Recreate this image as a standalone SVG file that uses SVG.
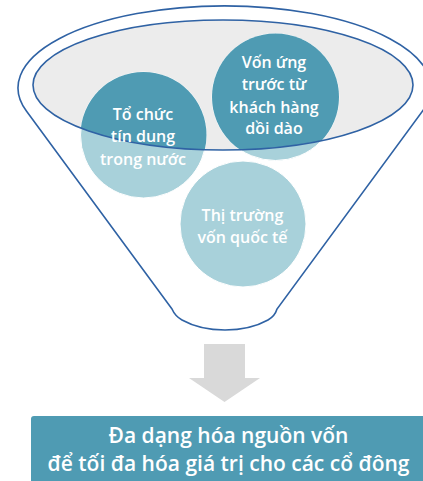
<svg xmlns="http://www.w3.org/2000/svg" width="423" height="481" viewBox="0 0 423 481">
<style>
.ol{fill:none;stroke:#2f62a4;stroke-width:1.6}
.lt{fill:#a8d1da;stroke:#ffffff;stroke-width:1}
.dk{fill:#4f9bb3}
.ct{font-family:"Open Sans","Noto Sans",sans-serif;font-size:16px;font-weight:600;fill:#ffffff;text-anchor:middle}
.bt{font-family:"Open Sans","Noto Sans",sans-serif;font-size:21px;font-weight:600;fill:#ffffff;text-anchor:middle}
</style>
<defs>
<clipPath id="inner"><ellipse cx="223" cy="85" rx="190" ry="65"/></clipPath>
</defs>
<g id="funnel">
<path class="ol" d="M172,309 L26.4,111 A206.5 82 0 1 1 422.6,111 L277,309 Q275,316 268,320 Q250,330 225,330 Q200,330 182,320 Q175,316 172,309 Z"/>
<ellipse cx="223" cy="85" rx="190" ry="65" fill="#ececec"/>
</g>
<g id="node-tochuc">
<circle class="lt" cx="143.5" cy="135" r="63"/>
<circle class="dk" cx="143.5" cy="135" r="63" clip-path="url(#inner)"/>
</g>
<g id="node-vonung">
<circle class="lt" cx="275.5" cy="97" r="63.5"/>
<circle class="dk" cx="275.5" cy="97" r="63.5" clip-path="url(#inner)"/>
</g>
<g id="node-thitruong">
<circle class="lt" cx="243" cy="224" r="63"/>
</g>
<ellipse class="ol" cx="223" cy="85" rx="190" ry="65"/>
<g id="labels">
<text class="ct" x="143" y="120">Tổ chức</text>
<text class="ct" x="143" y="142">tín dung</text>
<text class="ct" x="143" y="165">trong nước</text>
<text class="ct" x="274" y="68">Vốn ứng</text>
<text class="ct" x="274" y="90">trước từ</text>
<text class="ct" x="274" y="113">khách hàng</text>
<text class="ct" x="274" y="134">dồi dào</text>
<text class="ct" x="242.5" y="221">Thị trường</text>
<text class="ct" x="242.5" y="243">vốn quốc tế</text>
</g>
<g id="connectors">
<path d="M204,344 H245 V378 H260 L224.5,402 L189,378 H204 Z" fill="#d9d9d9"/>
</g>
<g id="node-result">
<rect x="31" y="416" width="400" height="70" rx="3" fill="#4f9bb3"/>
<text class="bt" x="228.5" y="443">Đa dạng hóa nguồn vốn</text>
<text class="bt" x="228.5" y="471">để tối đa hóa giá trị cho các cổ đông</text>
</g>
</svg>
